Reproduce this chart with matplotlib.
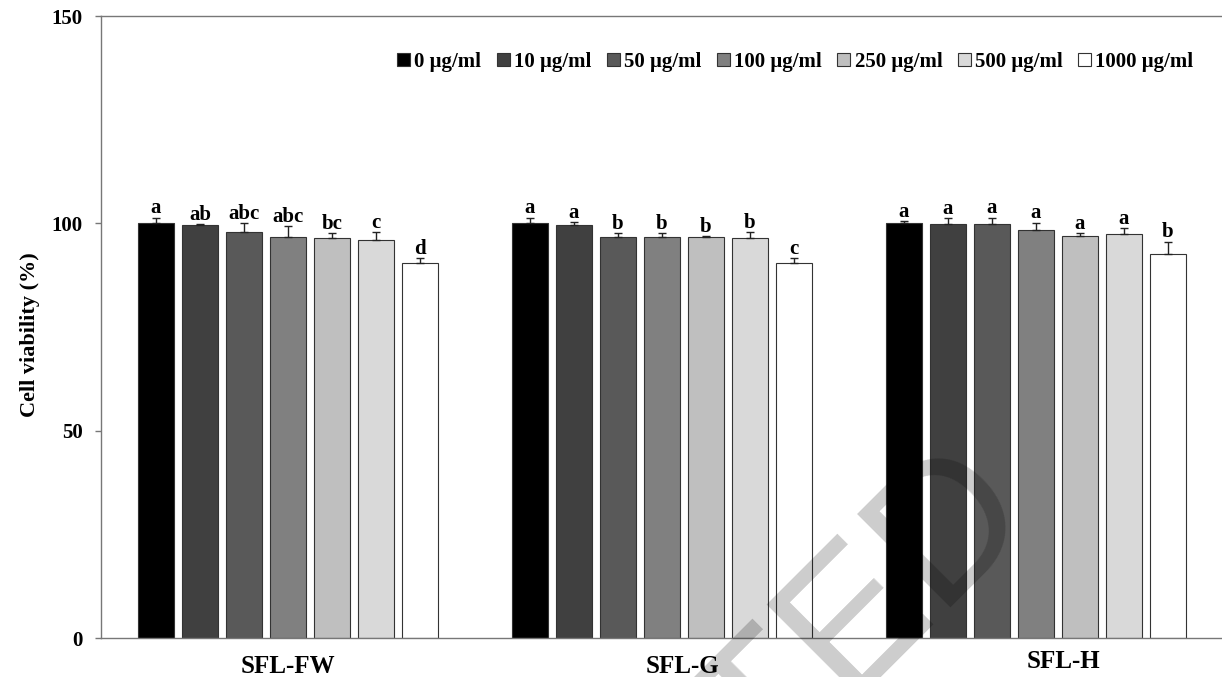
import numpy as np
import matplotlib.pyplot as plt
from matplotlib.transforms import ScaledTranslation

plt.rcParams['font.family'] = ['Liberation Serif', 'DejaVu Serif']
plt.rcParams['font.weight'] = 'bold'

# data
extracts = ['SFL-FW', 'SFL-G', 'SFL-H']
concentrations = ['0 μg/ml', '10 μg/ml', '50 μg/ml', '100 μg/ml',
                  '250 μg/ml', '500 μg/ml', '1000 μg/ml']

viability_fw = [100.0, 99.6, 97.8, 96.7, 96.5, 96.0, 90.5]
viability_g = [100.0, 99.5, 96.6, 96.6, 96.6, 96.5, 90.4]
viability_h = [100.0, 99.8, 99.8, 98.5, 96.9, 97.4, 92.6]

err_fw = [1.4, 0.2, 2.2, 2.6, 1.1, 1.9, 1.2]
err_g = [1.4, 0.9, 1.0, 1.0, 0.3, 1.4, 1.3]
err_h = [0.6, 1.4, 1.6, 1.7, 0.8, 1.4, 3.0]

letters_fw = ['a', 'ab', 'abc', 'abc', 'bc', 'c', 'd']
letters_g = ['a', 'a', 'b', 'b', 'b', 'b', 'c']
letters_h = ['a', 'a', 'a', 'a', 'a', 'a', 'b']

colors = ['#000000', '#404040', '#595959', '#808080', '#bfbfbf', '#d9d9d9', '#ffffff']

viability = np.array([viability_fw, viability_g, viability_h])
errors = np.array([err_fw, err_g, err_h])
letters = [letters_fw, letters_g, letters_h]

fig = plt.figure(figsize=(12.22, 6.77), dpi=100)
ax = fig.add_axes([101 / 1222, 39 / 677, 1122 / 1222, 622 / 677])

x = np.arange(len(extracts))
pitch = 44 / 374
width = 35.5 / 374

for j, conc in enumerate(concentrations):
    pos = x + (j - 3) * pitch
    ax.bar(pos, viability[:, j], width, color=colors[j], edgecolor='#333333',
           linewidth=0.8, label=conc, zorder=2)
    ax.errorbar(pos, viability[:, j], yerr=[np.zeros(3), errors[:, j]], fmt='none',
                ecolor='#222222', elinewidth=1, capsize=2.6, capthick=1, zorder=3)
    for i in range(len(extracts)):
        ax.annotate(letters[i][j], (pos[i], viability[i, j] + errors[i, j]),
                    xytext=(0, 3), textcoords='offset points', ha='center',
                    va='baseline', fontsize=15, fontweight='bold')

ax.set_xlim(-0.5, 2.5)
ax.set_ylim(0, 150)
ax.set_yticks([0, 50, 100, 150])
ax.set_xticks(x)
ax.set_xticklabels(extracts, fontsize=18, fontweight='bold')
ax.tick_params(axis='x', length=0, pad=12)
ax.tick_params(axis='y', length=4, width=1, color='#777777', direction='out',
               pad=9, labelsize=15)
for lab in ax.get_yticklabels():
    lab.set_fontweight('bold')

# the category labels are nudged by hand in the original
nudges = [(0, 0), (20, 0), (27, 5)]
for lab, (dx, dy) in zip(ax.get_xticklabels(), nudges):
    lab.set_transform(lab.get_transform() + ScaledTranslation(dx / 100, dy / 100, fig.dpi_scale_trans))

for s in ['left', 'top', 'bottom']:
    ax.spines[s].set_color('#777777')
    ax.spines[s].set_linewidth(1)
ax.spines['right'].set_visible(False)

ax.set_ylabel('Cell viability (%)', fontsize=16, fontweight='bold')
ax.yaxis.set_label_coords(-0.054, 0.488)

ax.legend(loc='center right', bbox_to_anchor=(1204 / 1222, 1 - 62 / 677),
          bbox_transform=fig.transFigure, ncol=7, frameon=False,
          prop={'size': 15, 'weight': 'bold'}, handlelength=0.62,
          handleheight=0.62, handletextpad=0.2, columnspacing=0.75, borderpad=0)

# faint watermark
fig.text(1038 / 1222, 1 - 520 / 677, 'ACCEPTED', family='Liberation Sans',
         fontweight='normal', fontsize=138, color='black', alpha=0.2,
         rotation=45, rotation_mode='anchor', ha='right', va='baseline')

plt.savefig('out.png', dpi=100)
